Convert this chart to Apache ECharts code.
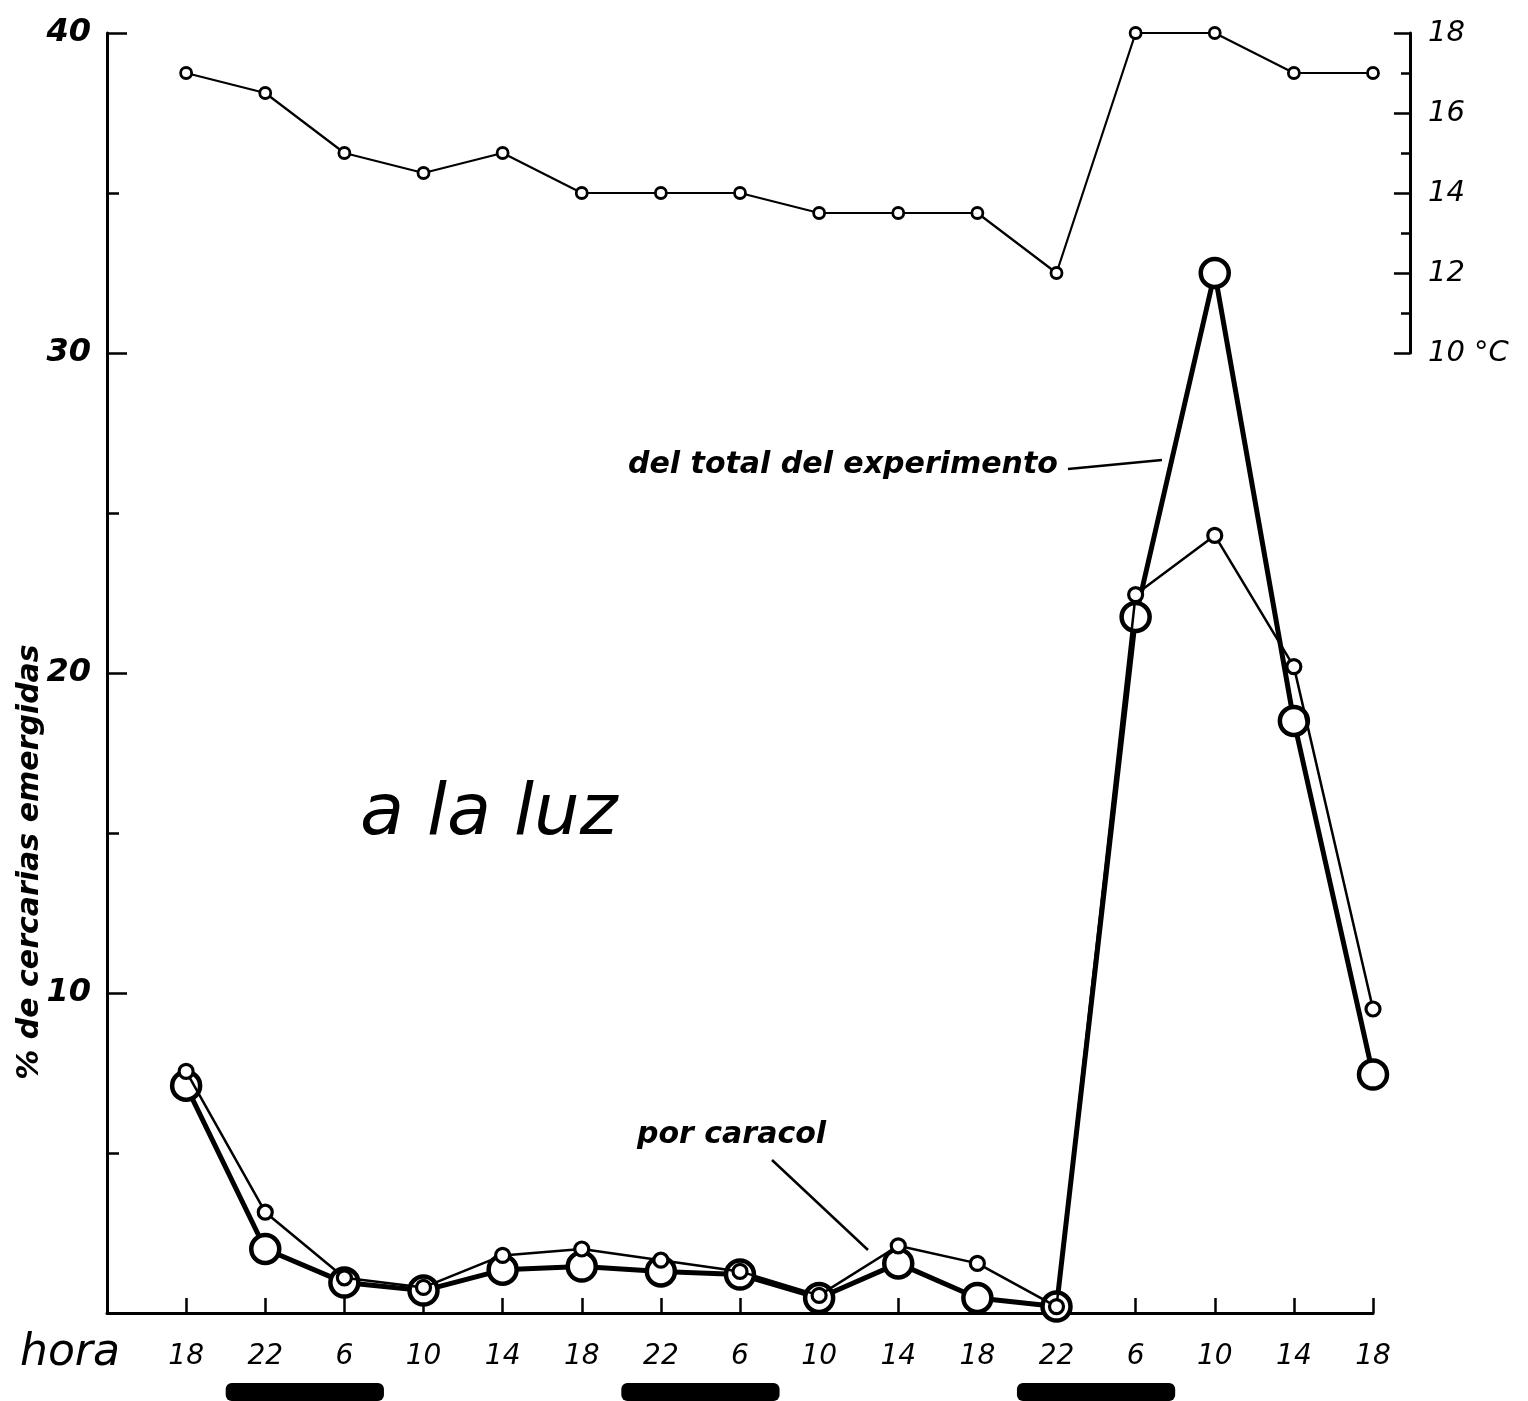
<!DOCTYPE html>
<html>
<head>
<meta charset="utf-8">
<title>a la luz</title>
<script src="https://cdn.jsdelivr.net/npm/echarts@6/dist/echarts.min.js"></script>
<style>
html, body { margin: 0; padding: 0; background: #fff; }
#chart { width: 1528px; height: 1401px; }
</style>
</head>
<body>
<div id="chart"></div>
<script>
// horas de muestreo (eje x)
var horas = ["18", "22", "6", "10", "14", "18", "22", "6", "10", "14", "18", "22", "6", "10", "14", "18"];
// temperatura del agua, °C (eje derecho)
var temperatura = [17, 16.5, 15, 14.5, 15, 14, 14, 14, 13.5, 13.5, 13.5, 12, 18, 18, 17, 17];
// % de cercarias emergidas
var totalExperimento = [7.1, 2.0, 0.95, 0.7, 1.35, 1.45, 1.3, 1.2, 0.47, 1.55, 0.47, 0.2, 21.75, 32.5, 18.5, 7.45];
var porCaracol = [7.55, 3.15, 1.1, 0.8, 1.8, 2.0, 1.65, 1.3, 0.55, 2.1, 1.55, 0.2, 22.45, 24.3, 20.2, 9.5];
// periodos de oscuridad (en posiciones de hora)
var oscuridad = [[0.5, 2.5], [5.5, 7.5], [10.5, 12.5]];
var pctLabels = [10, 20, 30, 40];
var tempLabels = { 18: "18", 16: "16", 14: "14", 12: "12", 10: "10 °C" };

var FONT = "DejaVu Sans";
var cats = [""].concat(horas);

function pares(arr) {
  return arr.map(function (v, i) { return [i + 1, v]; });
}

var chart = echarts.init(document.getElementById("chart"));

var option = {
  backgroundColor: "#fff",
  animation: false,
  grid: [
    { left: 107, right: 155, top: 33, bottom: 88 },
    { left: 107, right: 155, top: 33, height: 320 }
  ],
  xAxis: [
    {
      type: "category",
      gridIndex: 0,
      data: cats,
      boundaryGap: false,
      axisLine: { lineStyle: { color: "#000", width: 3 } },
      axisTick: { inside: true, length: 15, interval: 0, lineStyle: { color: "#000", width: 2.5 } },
      axisLabel: {
        interval: 0, margin: 30, color: "#000",
        fontFamily: FONT, fontStyle: "italic", fontSize: 28
      },
      splitLine: { show: false }
    },
    {
      type: "category",
      gridIndex: 1,
      data: cats,
      boundaryGap: false,
      show: false
    }
  ],
  yAxis: [
    {
      type: "value",
      gridIndex: 0,
      min: 0, max: 40, interval: 10,
      axisLine: { show: true, lineStyle: { color: "#000", width: 3 } },
      axisTick: { show: true, inside: true, length: 20, lineStyle: { color: "#000", width: 2.5 } },
      minorTick: { show: true, splitNumber: 2, length: 12, lineStyle: { color: "#000", width: 2.5 } },
      axisLabel: {
        margin: 16, color: "#000",
        fontFamily: FONT, fontStyle: "italic", fontWeight: "bold", fontSize: 32,
        formatter: function (v) { return pctLabels.indexOf(v) >= 0 ? String(v) : ""; }
      },
      splitLine: { show: false }
    },
    {
      type: "value",
      gridIndex: 1,
      position: "right",
      offset: 37,
      min: 10, max: 18, interval: 2,
      axisLine: { show: true, lineStyle: { color: "#000", width: 3 } },
      axisTick: { show: true, inside: true, length: 16, lineStyle: { color: "#000", width: 2.5 } },
      minorTick: { show: true, splitNumber: 2, length: 9, lineStyle: { color: "#000", width: 2.5 } },
      axisLabel: {
        margin: 18, color: "#000",
        fontFamily: FONT, fontStyle: "italic", fontSize: 29,
        formatter: function (v) { return tempLabels[v] || ""; }
      },
      splitLine: { show: false }
    }
  ],
  series: [
    {
      name: "temperatura",
      type: "line",
      xAxisIndex: 1, yAxisIndex: 1,
      data: pares(temperatura),
      clip: false,
      symbol: "circle", symbolSize: 11,
      lineStyle: { color: "#000", width: 2.2 },
      itemStyle: { color: "#fff", borderColor: "#000", borderWidth: 2.8 }
    },
    {
      name: "del total del experimento",
      type: "line",
      data: pares(totalExperimento),
      clip: false,
      symbol: "circle", symbolSize: 28,
      lineStyle: { color: "#000", width: 5 },
      itemStyle: { color: "#fff", borderColor: "#000", borderWidth: 4.5 },
      z: 2
    },
    {
      name: "por caracol",
      type: "line",
      data: pares(porCaracol),
      clip: false,
      symbol: "circle", symbolSize: 14,
      lineStyle: { color: "#000", width: 2.5 },
      itemStyle: { color: "#fff", borderColor: "#000", borderWidth: 3.2 },
      z: 3
    },
    {
      name: "oscuridad",
      type: "custom",
      silent: true,
      clip: false,
      data: oscuridad.map(function (p) { return [0, 0, p[0], p[1]]; }),
      encode: { x: 0, y: 1 },
      renderItem: function (params, api) {
        function px(v) {
          var lo = Math.floor(v) + 1, hi = Math.ceil(v) + 1;
          var a = api.coord([lo, 0]), b = api.coord([hi, 0]);
          return a[0] + (b[0] - a[0]) * (v + 1 - lo);
        }
        var x0 = px(api.value(2)), x1 = px(api.value(3));
        var y = api.coord([1, 0])[1] + 70;
        return {
          type: "rect",
          shape: { x: x0, y: y, width: x1 - x0, height: 18, r: 6 },
          style: { fill: "#000" }
        };
      }
    }
  ],
  graphic: [
    {
      type: "text", left: 20, top: 1332,
      style: { text: "hora", fill: "#000", font: "italic 44px '" + FONT + "'" }
    },
    {
      type: "text", x: 30, y: 862, rotation: Math.PI / 2,
      style: {
        text: "% de cercarias emergidas", fill: "#000",
        font: "italic bold 30px '" + FONT + "'", align: "center", verticalAlign: "middle"
      }
    },
    {
      type: "text", x: 360, y: 815,
      style: {
        text: "a la luz", fill: "#000",
        font: "italic 72px '" + FONT + "'", verticalAlign: "middle"
      }
    },
    {
      type: "text", x: 628, y: 465,
      style: {
        text: "del total del experimento", fill: "#000",
        font: "italic bold 30px '" + FONT + "'", verticalAlign: "middle"
      }
    },
    {
      type: "line",
      shape: { x1: 1068, y1: 469, x2: 1162, y2: 460 },
      style: { stroke: "#000", lineWidth: 2.5 }
    },
    {
      type: "text", x: 637, y: 1135,
      style: {
        text: "por caracol", fill: "#000",
        font: "italic bold 30px '" + FONT + "'", verticalAlign: "middle"
      }
    },
    {
      type: "line",
      shape: { x1: 772, y1: 1160, x2: 868, y2: 1250 },
      style: { stroke: "#000", lineWidth: 2.5 }
    }
  ]
};

chart.setOption(option);
</script>
</body>
</html>
